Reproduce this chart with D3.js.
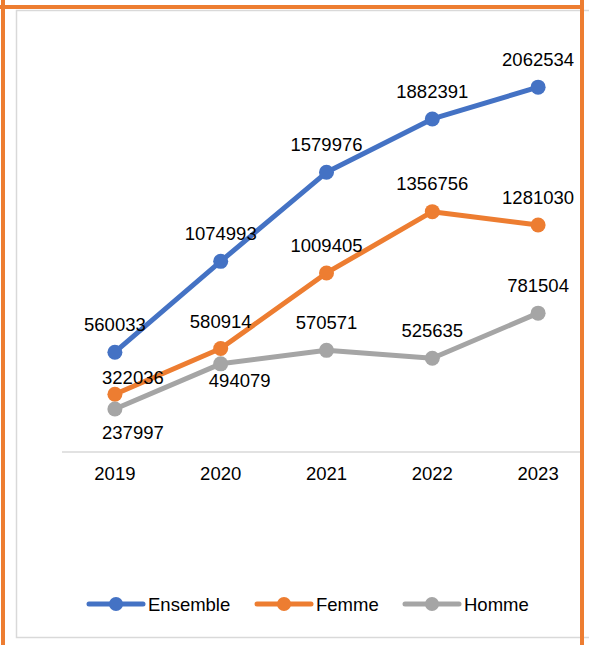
<!DOCTYPE html>
<html>
<head>
<meta charset="utf-8">
<script src="https://cdn.jsdelivr.net/npm/d3@7"></script>
<style>
  html, body { margin: 0; padding: 0; background: #fff; }
  svg { display: block; }
  text { font-family: "Liberation Sans", Arial, sans-serif; fill: #000; }
</style>
</head>
<body>
<svg id="chart" width="589" height="645"></svg>
<script>
// Data
const years = ["2019", "2020", "2021", "2022", "2023"];
const ensemble = [560033, 1074993, 1579976, 1882391, 2062534];
const femme = [322036, 580914, 1009405, 1356756, 1281030];
const homme = [237997, 494079, 570571, 525635, 781504];
const seriesNames = ["Ensemble", "Femme", "Homme"];
const seriesColors = ["#4472C4", "#ED7D31", "#A5A5A5"];

// label nudges [dx, dy] relative to each point (centre of text)
const labelNudges = [
  [[0, -28], [0, -28], [0, -28], [0, -28], [0, -28]],
  [[18, -17], [0, -27], [0, -28], [0, -28], [0, -28]],
  [[18, 23], [19, 16], [0, -28], [0, -28], [0, -28]]
];

const series = seriesNames.map((name, i) => ({
  name,
  values: [ensemble, femme, homme][i],
  color: seriesColors[i],
  nudges: labelNudges[i]
}));

const FONT = 18.5;
const svg = d3.select("#chart");

// chart frame
svg.append("rect")
  .attr("x", 16.5).attr("y", 10.5)
  .attr("width", 580).attr("height", 627)
  .attr("fill", "#fff")
  .attr("stroke", "#d9d9d9").attr("stroke-width", 1.5);

const x = d3.scaleBand().domain(years).range([62, 591]);
const y = d3.scaleLinear().domain([0, 2500000]).range([451, 10]);

// category axis
const xAxis = svg.append("g")
  .attr("transform", "translate(0,452)")
  .call(d3.axisBottom(x).tickSize(0).tickPadding(15));
xAxis.select(".domain").attr("stroke", "#d9d9d9").attr("stroke-width", 1.5)
  .attr("d", "M62,0H582");
xAxis.selectAll("text")
  .attr("font-size", FONT + "px")
  .attr("font-family", "Liberation Sans, Arial, sans-serif")
  .attr("fill", "#000");

const cx = d => x(d) + x.bandwidth() / 2;

const line = d3.line()
  .x((v, i) => cx(years[i]))
  .y(v => y(v));

// lines, markers and labels
series.forEach(s => {
  const g = svg.append("g");
  g.append("path")
    .datum(s.values)
    .attr("d", line)
    .attr("fill", "none")
    .attr("stroke", s.color)
    .attr("stroke-width", 5)
    .attr("stroke-linejoin", "round")
    .attr("stroke-linecap", "round");
  g.selectAll("circle")
    .data(s.values)
    .join("circle")
    .attr("cx", (v, i) => cx(years[i]))
    .attr("cy", v => y(v))
    .attr("r", 7.5)
    .attr("fill", s.color);
  g.selectAll("text")
    .data(s.values)
    .join("text")
    .attr("x", (v, i) => cx(years[i]) + s.nudges[i][0])
    .attr("y", (v, i) => y(v) + s.nudges[i][1] + FONT * 0.36)
    .attr("text-anchor", "middle")
    .attr("font-size", FONT + "px")
    .text(v => v);
});

// legend
const legend = svg.append("g");
const legendX = [87, 255, 403];
series.forEach((s, i) => {
  const lg = legend.append("g").attr("transform", `translate(${legendX[i]},604)`);
  lg.append("line")
    .attr("x1", 2).attr("x2", 56).attr("y1", 0).attr("y2", 0)
    .attr("stroke", s.color).attr("stroke-width", 5).attr("stroke-linecap", "round");
  lg.append("circle").attr("cx", 29).attr("cy", 0).attr("r", 7).attr("fill", s.color);
  lg.append("text").attr("x", 61).attr("y", FONT * 0.36)
    .attr("font-size", FONT + "px").text(s.name);
});

// orange outline around the frame
const outline = svg.append("g").attr("stroke", "#ED7D31").attr("stroke-width", 4);
outline.append("line").attr("x1", 3).attr("x2", 3).attr("y1", 0).attr("y2", 645);
outline.append("line").attr("x1", 0).attr("x2", 584).attr("y1", 7).attr("y2", 7);
outline.append("line").attr("x1", 582).attr("x2", 582).attr("y1", 0).attr("y2", 645);
</script>
</body>
</html>
